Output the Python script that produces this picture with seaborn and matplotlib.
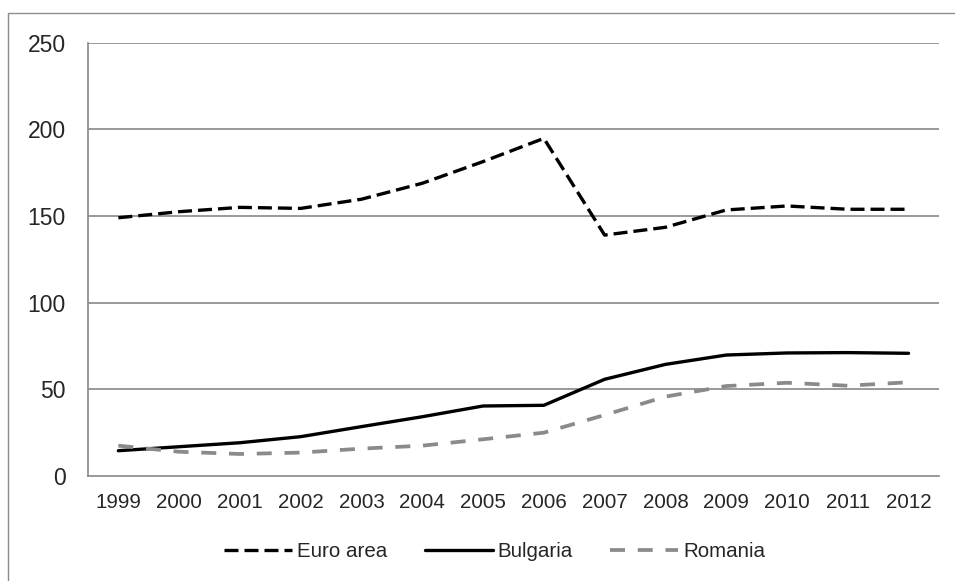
"""Euro area / Bulgaria / Romania line chart, 1999-2012"""
import matplotlib
matplotlib.use('Agg')
import matplotlib.pyplot as plt
import seaborn as sns
import pandas as pd
from matplotlib.patches import Rectangle

years = ['1999', '2000', '2001', '2002', '2003', '2004', '2005',
         '2006', '2007', '2008', '2009', '2010', '2011', '2012']
euro_area = [149, 152.5, 155, 154.4, 159.7, 168.9, 181.4,
             194.8, 139, 143.5, 153.5, 155.8, 153.9, 153.9]
bulgaria = [14.6, 16.9, 19.2, 22.7, 28.5, 34.2, 40.4,
            40.8, 55.8, 64.4, 69.8, 71, 71.2, 70.8]
romania = [17.5, 14, 12.7, 13.5, 15.8, 17.5, 21.2,
           25, 35.2, 45.8, 51.9, 53.8, 52.1, 54.1]
y_ticks = [0, 50, 100, 150, 200, 250]

sns.set_theme(style='white')
plt.rcParams['font.family'] = ['Liberation Sans', 'DejaVu Sans']

df = pd.DataFrame({'pos': range(len(years)), 'Euro area': euro_area,
                   'Bulgaria': bulgaria, 'Romania': romania})

fig = plt.figure(figsize=(9.55, 5.81), dpi=100)
ax = fig.add_axes([0.0921, 0.1807, 0.8911, 0.7458])

# 外框
fig.patches.append(Rectangle((8 / 955, -0.1), 1.2, 0.1 + (581 - 13) / 581,
                             transform=fig.transFigure, fill=False,
                             edgecolor='#8c8c8c', linewidth=1.0))

grid_c = '#888888'
sns.lineplot(data=df, x='pos', y='Euro area', ax=ax, color='black',
             linewidth=2.4, label='Euro area')
sns.lineplot(data=df, x='pos', y='Bulgaria', ax=ax, color='black',
             linewidth=2.4, label='Bulgaria')
sns.lineplot(data=df, x='pos', y='Romania', ax=ax, color='#8a8a8a',
             linewidth=2.7, label='Romania')
ax.lines[0].set_dashes((4.2, 1.8))
ax.lines[2].set_dashes((4.0, 3.4))

ax.set_xlim(-0.5, len(years) - 0.5)
ax.set_ylim(0, 250)
ax.set_xticks(range(len(years)))
ax.set_xticklabels(years, fontsize=14.8)
ax.set_yticks(y_ticks)
ax.set_yticklabels([str(v) for v in y_ticks], fontsize=16.5)
ax.tick_params(axis='x', length=0, pad=12)
ax.tick_params(axis='y', length=0, pad=16)
ax.set_xlabel('')
ax.set_ylabel('')
for v in y_ticks[1:]:
    ax.axhline(v, color=grid_c, linewidth=1.2, zorder=0)
for side in ['top', 'right']:
    ax.spines[side].set_visible(False)
for side in ['left', 'bottom']:
    ax.spines[side].set_color(grid_c)
    ax.spines[side].set_linewidth(1.2)

ax.get_legend().remove()
handles, labels = ax.get_legend_handles_labels()
fig.legend(handles, labels, loc='center', bbox_to_anchor=(0.518, 0.05),
           ncol=3, frameon=False, fontsize=14.8, handlelength=3.3,
           handletextpad=0.25, columnspacing=1.8)

fig.savefig('out.png', dpi=100)
plt.close()
